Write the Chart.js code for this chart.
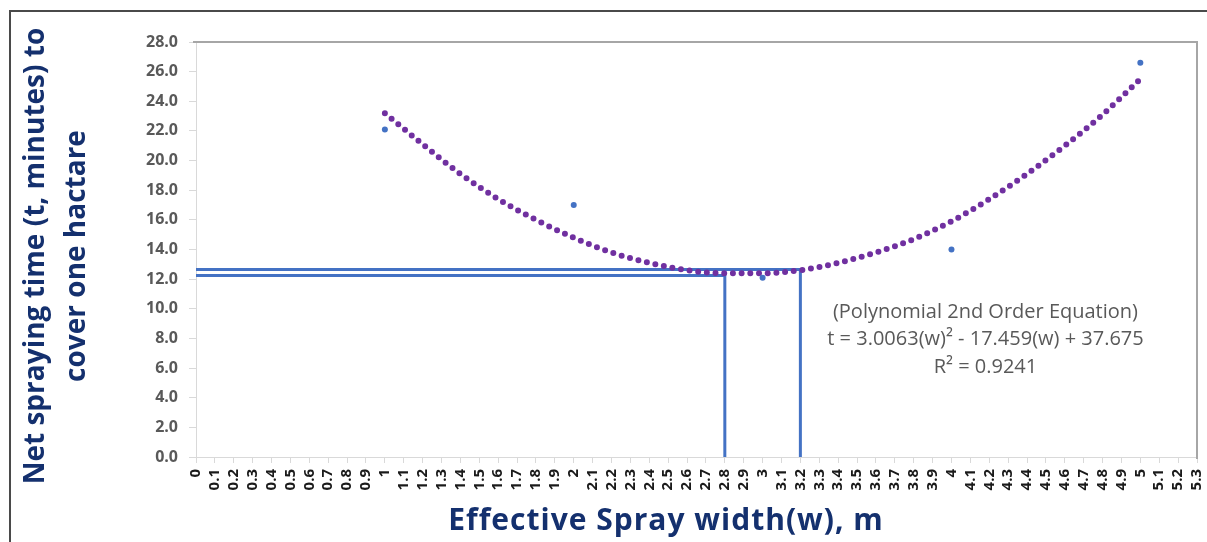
<!DOCTYPE html>
<html>
<head>
<meta charset="utf-8">
<script src="https://cdn.jsdelivr.net/npm/chart.js@4.4.1/dist/chart.umd.min.js"></script>
<style>
  html, body { margin: 0; padding: 0; background: #fff; }
  #wrap { position: relative; width: 1207px; height: 542px; }
  #frame { position: absolute; left: 9px; top: 10px; right: 0; bottom: 0;
           border-top: 2px solid #4a4a4a; border-left: 2px solid #4a4a4a; pointer-events: none; }
</style>
</head>
<body>
<div id="wrap">
  <canvas id="grafico"></canvas>
  <div id="frame"></div>
</div>
<script>
// Puntos medidos (ancho efectivo vs tiempo neto)
const sprayWidth = [1, 2, 3, 4, 5];
const sprayTime = [22.1, 17.0, 12.1, 14.0, 26.6];

// Linea de tendencia polinomial
const trendWidth = [1.0, 1.2, 1.4, 1.6, 1.8, 2.0, 2.2, 2.4, 2.6, 2.8, 3.0,
                    3.2, 3.4, 3.6, 3.8, 4.0, 4.2, 4.4, 4.6, 4.8, 5.0];
const trendTime = [23.2, 21.1, 19.1, 17.4, 16.0, 14.8, 13.8, 13.1, 12.6, 12.4, 12.4,
                   12.6, 13.1, 13.8, 14.7, 15.9, 17.4, 19.1, 21.0, 23.1, 25.5];

// Lineas guia (ancho optimo)
const guideWidth = [2.8, 3.2];
const guideTime = [12.25, 12.65];

// Ejes
const xMin = 0, xMax = 5.3, xStep = 0.1;
const yMin = 0, yMax = 28, yStep = 2;

// Textos
const yTitle = ['Net spraying time (t, minutes) to', 'cover one hactare'];
const xTitle = 'Effective Spray width(w), m';
const ecuacion = ['(Polynomial 2nd Order Equation)',
                  't = 3.0063(w)\u00B2 - 17.459(w) + 37.675',
                  'R\u00B2 = 0.9241'];

const AZUL = '#4472C4';
const MORADO = '#7030A0';
const NAVY = '#14306e';

const puntos = sprayWidth.map((w, i) => ({ x: w, y: sprayTime[i] }));
const tendencia = trendWidth.map((w, i) => ({ x: w, y: trendTime[i] }));
const guias = guideWidth.map((w, i) => [
    { x: xMin, y: guideTime[i] }, { x: w, y: guideTime[i] }, { x: w, y: yMin }
]);

// Marco superior/derecho, titulos y ecuacion
const extras = {
    id: 'extras',
    afterDraw(chart) {
        const { ctx, chartArea: a, scales } = chart;
        ctx.save();
        ctx.strokeStyle = '#a6a6a6';
        ctx.lineWidth = 2;
        ctx.beginPath();
        ctx.moveTo(a.left - 3, a.top);
        ctx.lineTo(a.right, a.top);
        ctx.lineTo(a.right, a.bottom + 2);
        ctx.stroke();

        // titulo eje Y
        ctx.fillStyle = NAVY;
        ctx.font = 'bold 28px "Open Sans"';
        ctx.textAlign = 'center';
        ctx.textBaseline = 'middle';
        ctx.save();
        ctx.translate(36, 256);
        ctx.rotate(-Math.PI / 2);
        ctx.fillText(yTitle[0], 0, 0);
        ctx.fillText(yTitle[1], 0, 41);
        ctx.restore();

        // titulo eje X
        ctx.font = 'bold 30px "Open Sans"';
        ctx.letterSpacing = '1px';
        ctx.fillText(xTitle, 666, 521);
        ctx.letterSpacing = '0px';

        // ecuacion
        ctx.fillStyle = '#595959';
        ctx.font = '20px "Open Sans"';
        const cx = scales.x.getPixelForValue(4.18);
        ecuacion.forEach((t, i) => ctx.fillText(t, cx, 312 + i * 27.5));
        ctx.restore();
    }
};

new Chart(document.getElementById('grafico'), {
    type: 'scatter',
    data: {
        datasets: [
            {
                label: 'Datos',
                data: puntos,
                backgroundColor: AZUL,
                borderWidth: 0,
                pointRadius: 3
            },
            {
                label: 'Tendencia',
                data: tendencia,
                showLine: true,
                pointRadius: 0,
                borderColor: MORADO,
                borderWidth: 6,
                borderDash: [0, 8.7],
                borderCapStyle: 'round',
                cubicInterpolationMode: 'monotone'
            },
            ...guias.map((g, i) => ({
                label: 'Guia ' + (i + 1),
                data: g,
                showLine: true,
                pointRadius: 0,
                borderColor: AZUL,
                borderWidth: 3,
                tension: 0
            }))
        ]
    },
    options: {
        responsive: true,
        maintainAspectRatio: false,
        animation: false,
        layout: { padding: { top: 42, right: 10, left: 0, bottom: 0 } },
        plugins: {
            legend: { display: false },
            tooltip: { enabled: false }
        },
        scales: {
            x: {
                type: 'linear',
                min: xMin,
                max: xMax,
                afterFit: s => { s.height = 85; s.paddingLeft = 0; s.paddingRight = 0; },
                border: { color: '#d9d9d9', width: 1 },
                grid: { drawOnChartArea: false, color: '#d9d9d9', tickLength: 6 },
                ticks: {
                    stepSize: xStep,
                    autoSkip: false,
                    minRotation: 90,
                    maxRotation: 90,
                    padding: 6,
                    color: '#1a1a1a',
                    font: { family: 'Open Sans', size: 15, weight: 'bold' },
                    callback: v => String(+v.toFixed(1))
                }
            },
            y: {
                min: yMin,
                max: yMax,
                afterFit: s => { s.width = 196; s.paddingTop = 0; s.paddingBottom = 0; },
                border: { color: '#d9d9d9', width: 1 },
                grid: { drawOnChartArea: false, color: '#d9d9d9', tickLength: 7 },
                ticks: {
                    stepSize: yStep,
                    padding: 11,
                    color: '#595959',
                    font: { family: 'Open Sans', size: 16, weight: 'bold' },
                    callback: v => v.toFixed(1)
                }
            }
        }
    },
    plugins: [extras]
});
</script>
</body>
</html>
